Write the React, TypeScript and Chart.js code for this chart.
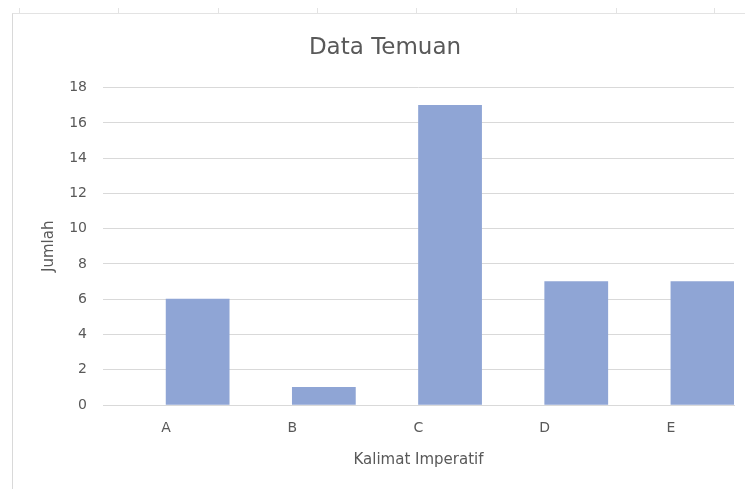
import React, { useEffect, useRef } from "react";
import { Chart, registerables } from "chart.js";

Chart.register(...registerables);

const chartTitle = "Data Temuan";
const xAxisTitle = "Kalimat Imperatif";
const yAxisTitle = "Jumlah";
const categories = ["A", "B", "C", "D", "E"];
const jumlahValues = [6, 1, 17, 7, 7];
const emptySeries = [null, null, null, null, null];
const yMin = 0;
const yMax = 18;
const yStep = 2;

const FONT = "'DejaVu Sans', 'Open Sans', sans-serif";
const TEXT = "#595959";
const GRID = "#d9d9d9";
const BAR = "#8fa5d5";

const frameTickXs = [19, 118, 218, 317, 416, 516, 616, 714];

export default function App() {
  const ref = useRef<HTMLCanvasElement | null>(null);

  useEffect(() => {
    if (!ref.current) return;
    const chart = new Chart(ref.current, {
      type: "bar",
      data: {
        labels: categories,
        datasets: [
          {
            label: "",
            data: emptySeries as any,
            backgroundColor: "rgba(0,0,0,0)",
          },
          {
            label: yAxisTitle,
            data: jumlahValues,
            backgroundColor: BAR,
            borderWidth: 0,
          },
        ],
      },
      options: {
        responsive: false,
        animation: false,
        layout: { padding: { left: 36, right: 11, top: 0, bottom: 0 } },
        datasets: {
          bar: { barPercentage: 1, categoryPercentage: 1 },
        },
        plugins: {
          legend: { display: false },
          tooltip: { enabled: false },
          title: {
            display: true,
            text: chartTitle,
            color: TEXT,
            font: { family: FONT, size: 23, weight: "normal" as any, lineHeight: 1.2 },
            padding: { top: 34, bottom: 26 },
          },
        },
        scales: {
          x: {
            grid: { display: false, drawTicks: false },
            border: { display: true, color: GRID, width: 1 },
            ticks: {
              color: TEXT,
              font: { family: FONT, size: 14 },
              padding: 15,
              maxRotation: 0,
            },
            title: {
              display: true,
              text: xAxisTitle,
              color: TEXT,
              font: { family: FONT, size: 15, lineHeight: 1.2 },
              padding: { top: 0, bottom: 20 },
            },
            afterFit: (scale: any) => {
              scale.height = 84;
            },
          },
          y: {
            min: yMin,
            max: yMax,
            grid: { color: GRID, lineWidth: 1, drawTicks: false },
            border: { display: false },
            ticks: {
              stepSize: yStep,
              color: TEXT,
              font: { family: FONT, size: 14 },
              padding: 16,
            },
            title: {
              display: true,
              text: yAxisTitle,
              color: TEXT,
              font: { family: FONT, size: 15, lineHeight: 1.2 },
              padding: { top: 4, bottom: 0 },
            },
            afterFit: (scale: any) => {
              scale.width = 67;
            },
          },
        },
      },
    });
    return () => chart.destroy();
  }, []);

  return (
    <div
      style={{
        position: "absolute",
        left: 0,
        top: 0,
        width: 745,
        height: 489,
        background: "#ffffff",
        overflow: "hidden",
      }}
    >
      <div
        style={{
          position: "absolute",
          left: 12,
          top: 13,
          width: 733,
          height: 476,
          borderLeft: "1px solid #d9d9d9",
          borderTop: "1px solid #e3e3e3",
        }}
      />
      {frameTickXs.map((x) => (
        <div
          key={x}
          style={{
            position: "absolute",
            left: x,
            top: 8,
            width: 1,
            height: 5,
            background: "#e3e3e3",
          }}
        />
      ))}
      <canvas
        ref={ref}
        width={745}
        height={489}
        style={{ position: "absolute", left: 0, top: 0, width: 745, height: 489 }}
      />
    </div>
  );
}
